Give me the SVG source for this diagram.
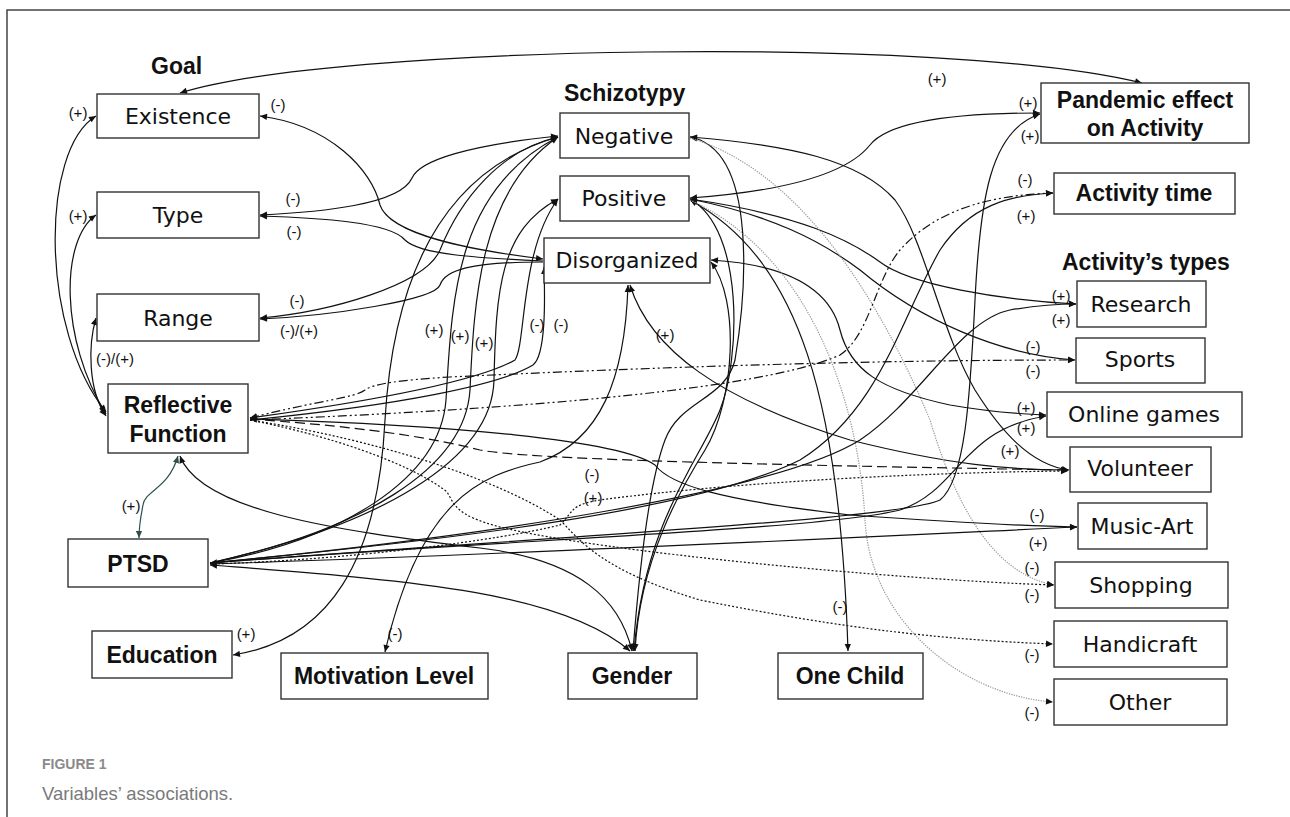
<svg xmlns="http://www.w3.org/2000/svg" width="1290" height="817" viewBox="0 0 1290 817">
<style>
.box{fill:#fff;stroke:#333;stroke-width:1.4}
.t{font-family:"DejaVu Sans",sans-serif;font-size:22px;fill:#111;text-anchor:middle}
.b{font-family:"Liberation Sans",Arial,sans-serif;font-weight:bold;font-size:23px;fill:#111;text-anchor:middle}
.h{font-family:"Liberation Sans",Arial,sans-serif;font-weight:bold;font-size:23px;fill:#111}
.l{font-family:"Liberation Sans",Arial,sans-serif;font-size:15px;fill:#111;text-anchor:middle}
.c{fill:none;stroke:#111;stroke-width:1.2}
.e{marker-end:url(#a)}
.s{marker-start:url(#a)}
.dd{stroke-dasharray:9 3 2 3 2 3}
.ds{stroke-dasharray:10 5}
.dt{stroke-dasharray:2 2}
.gr{stroke:#999;stroke-dasharray:1.3 1.2}
.tl{stroke:#2f4f4f;marker-start:url(#ta);marker-end:url(#ta)}
.cap1{font-family:"Liberation Sans",Arial,sans-serif;font-weight:bold;font-size:14px;fill:#8a8a8a}
.cap2{font-family:"Liberation Sans",Arial,sans-serif;font-size:18.5px;fill:#7a7a7a}
</style>
<defs>
<marker id="a" viewBox="0 0 10 10" refX="10" refY="5" markerWidth="9" markerHeight="7" markerUnits="userSpaceOnUse" orient="auto-start-reverse"><path d="M0,0.5 L10,5 L0,9.5 z" fill="#111"/></marker>
<marker id="ta" viewBox="0 0 10 10" refX="10" refY="5" markerWidth="9" markerHeight="7" markerUnits="userSpaceOnUse" orient="auto-start-reverse"><path d="M0,0.5 L10,5 L0,9.5 z" fill="#2f4f4f"/></marker>
</defs>
<rect x="0" y="0" width="1290" height="817" fill="#fff"/>
<g id="frame" fill="none" stroke="#444" stroke-width="1.5">
<path d="M7,817 L7,10 L1290,10"/>
</g>

<g id="connectors">
<!-- goal links -->
<path class="c e s" d="M180,93 C330,45 950,35 1142,83"/>
<path class="c e s" d="M106,412 C40,330 40,150 96,116"/>
<path class="c e s" d="M106,414 C60,340 60,240 96,215"/>
<path class="c e s" d="M106,416 C88,390 88,345 96,318"/>
<path class="c e s" d="M543,259 C470,250 390,235 380,205 C372,170 330,125 260,116"/>
<path class="c e s" d="M558,136 C470,145 420,160 412,178 C400,205 320,212 260,215"/>
<path class="c e" d="M543,261 C480,258 420,255 405,240 C390,222 320,218 260,216"/>
<path class="c e" d="M558,137 C500,150 460,200 440,250 C425,285 330,312 260,318"/>
<path class="c e" d="M543,262 C470,262 445,270 440,285 C435,300 330,316 260,319"/>
<!-- schizotypy left side -->
<path class="c e s" d="M558,137 C460,165 395,250 385,420 C378,560 330,640 233,655"/>
<path class="c e" d="M210,563 C340,540 440,480 446,400 C452,300 455,190 558,137"/>
<path class="c e" d="M210,563 C360,530 465,470 470,390 C474,300 480,190 558,137"/>
<path class="c e" d="M210,563 C380,525 492,460 494,380 C496,290 500,230 558,199"/>
<path class="c e s" d="M250,418 C380,400 480,380 515,360 C526,345 520,250 558,199"/>
<path class="c e" d="M250,420 C400,405 500,385 533,365 C546,355 545,300 544,267"/>
<path class="c e s" d="M628,285 C625,380 600,440 540,462 C480,475 420,500 385,652"/>
<path class="c e s" d="M630,285 C650,350 720,400 850,440 C950,465 1010,470 1068,470"/>
<!-- RF / PTSD / gender -->
<path class="c tl" d="M178,456 C168,490 145,490 143,505 C141,515 139,525 139,538"/>
<path class="c e s" d="M180,456 C200,510 330,530 480,548 C580,560 620,600 632,651"/>
<path class="c e s" d="M210,565 C400,580 560,590 630,651"/>
<path class="c e s" d="M690,137 C760,150 745,300 735,360 C725,400 680,400 665,440 C650,480 640,560 633,651"/>
<path class="c e s" d="M690,199 C745,230 740,360 720,410 C700,460 645,520 634,651"/>
<path class="c e s" d="M711,262 C740,300 735,400 705,450 C680,490 640,560 635,651"/>
<!-- schizotypy right side -->
<path class="c e s" d="M690,200 C800,260 840,400 848,651"/>
<path class="c e s" d="M690,198 C800,190 850,170 870,145 C890,120 960,113 1040,113"/>
<path class="c e" d="M690,199 C800,215 850,240 880,262 C910,285 1000,300 1076,304"/>
<path class="c e" d="M690,199 C770,215 820,240 860,270 C920,320 1000,355 1075,360"/>
<path class="c e s" d="M690,137 C790,145 860,160 895,200 C925,240 940,330 975,390 C1000,430 1030,465 1069,470"/>
<path class="c e s" d="M711,260 C790,265 830,290 840,330 C850,370 880,390 950,405 C990,412 1020,414 1046,415"/>
<path class="c gr e" d="M690,138 C800,170 880,300 930,420 C960,520 1000,575 1054,585"/>
<path class="c gr e" d="M690,200 C820,260 860,420 865,520 C870,620 960,695 1053,702"/>
<!-- PTSD right -->
<path class="c e s" d="M210,563 C500,540 900,520 940,500 C965,480 970,400 975,300 C980,200 990,130 1040,114"/>
<path class="c e" d="M210,563 C450,540 700,510 800,460 C880,410 900,320 940,250 C970,205 1010,195 1053,193"/>
<path class="c e" d="M210,563 C500,535 780,490 860,440 C920,400 960,320 1010,310 C1040,305 1060,304 1076,304"/>
<path class="c e" d="M210,563 C500,540 820,530 900,510 C960,490 960,430 1046,416"/>
<path class="c dt e" d="M210,564 C350,560 500,540 560,525 C575,510 570,505 600,500 C750,480 950,472 1068,471"/>
<path class="c e" d="M210,564 C500,555 800,540 1077,527"/>
<!-- RF right -->
<path class="c dd e s" d="M250,418 C320,400 355,398 365,390 C372,384 400,380 450,377 C700,365 900,360 1075,360"/>
<path class="c dd e" d="M250,420 C450,412 750,395 840,355 C870,335 875,280 900,250 C940,205 1000,195 1053,193"/>
<path class="c ds e s" d="M250,419 C380,428 440,440 480,450 C520,458 700,464 1068,470"/>
<path class="c dt e" d="M250,420 C350,440 420,470 447,492 C455,505 455,515 500,527 C600,552 900,580 1054,585"/>
<path class="c dt e" d="M250,420 C380,440 500,480 560,520 C580,540 600,570 700,600 C850,630 950,640 1053,644"/>
<path class="c e" d="M250,419 C450,425 620,440 655,465 C670,485 720,500 850,515 C950,522 1020,526 1077,527"/>
</g>

<g id="edge-labels">
<text class="l" x="937" y="84">(+)</text>
<text class="l" x="78" y="118">(+)</text>
<text class="l" x="278" y="110">(-)</text>
<text class="l" x="78" y="221">(+)</text>
<text class="l" x="293" y="204">(-)</text>
<text class="l" x="294" y="237">(-)</text>
<text class="l" x="297" y="306">(-)</text>
<text class="l" x="299" y="336">(-)/(+)</text>
<text class="l" x="115" y="364">(-)/(+)</text>
<text class="l" x="131" y="511">(+)</text>
<text class="l" x="434" y="335">(+)</text>
<text class="l" x="460" y="341">(+)</text>
<text class="l" x="484" y="348">(+)</text>
<text class="l" x="537" y="330">(-)</text>
<text class="l" x="561" y="330">(-)</text>
<text class="l" x="665" y="340">(+)</text>
<text class="l" x="592" y="480">(-)</text>
<text class="l" x="593" y="503">(+)</text>
<text class="l" x="246" y="639">(+)</text>
<text class="l" x="395" y="639">(-)</text>
<text class="l" x="840" y="612">(-)</text>
<text class="l" x="1028" y="108">(+)</text>
<text class="l" x="1030" y="141">(+)</text>
<text class="l" x="1025" y="185">(-)</text>
<text class="l" x="1026" y="221">(+)</text>
<text class="l" x="1061" y="301">(+)</text>
<text class="l" x="1061" y="325">(+)</text>
<text class="l" x="1033" y="352">(-)</text>
<text class="l" x="1033" y="376">(-)</text>
<text class="l" x="1026" y="413">(+)</text>
<text class="l" x="1026" y="433">(+)</text>
<text class="l" x="1010" y="456">(+)</text>
<text class="l" x="1037" y="520">(-)</text>
<text class="l" x="1038" y="548">(+)</text>
<text class="l" x="1032" y="573">(-)</text>
<text class="l" x="1032" y="600">(-)</text>
<text class="l" x="1032" y="660">(-)</text>
<text class="l" x="1032" y="718">(-)</text>
</g>

<g id="group-headings">
<text class="h" x="151" y="74">Goal</text>
<text class="h" x="564" y="101">Schizotypy</text>
<text class="h" x="1062" y="270">Activity’s types</text>
</g>

<g id="existence"><rect class="box" x="97" y="94" width="162" height="44"/><text class="t" x="178" y="124">Existence</text></g>
<g id="type"><rect class="box" x="97" y="192" width="162" height="46"/><text class="t" x="178" y="223">Type</text></g>
<g id="range"><rect class="box" x="97" y="294" width="162" height="47"/><text class="t" x="178" y="326">Range</text></g>
<g id="reflective-function"><rect class="box" x="108" y="384" width="140" height="69"/><text class="b" x="178" y="413">Reflective</text><text class="b" x="178" y="442">Function</text></g>
<g id="ptsd"><rect class="box" x="68" y="539" width="140" height="48"/><text class="b" x="138" y="572">PTSD</text></g>
<g id="education"><rect class="box" x="92" y="631" width="140" height="47"/><text class="b" x="162" y="663">Education</text></g>
<g id="motivation-level"><rect class="box" x="281" y="653" width="207" height="46"/><text class="b" x="384" y="684">Motivation Level</text></g>
<g id="gender"><rect class="box" x="568" y="653" width="129" height="46"/><text class="b" x="632" y="684">Gender</text></g>
<g id="one-child"><rect class="box" x="778" y="653" width="145" height="46"/><text class="b" x="850" y="684">One Child</text></g>
<g id="negative"><rect class="box" x="560" y="113" width="129" height="45"/><text class="t" x="624" y="144">Negative</text></g>
<g id="positive"><rect class="box" x="560" y="176" width="129" height="45"/><text class="t" x="624" y="206">Positive</text></g>
<g id="disorganized"><rect class="box" x="544" y="238" width="166" height="45"/><text class="t" x="627" y="268">Disorganized</text></g>
<g id="pandemic-effect"><rect class="box" x="1041" y="83" width="208" height="60"/><text class="b" x="1145" y="108">Pandemic effect</text><text class="b" x="1145" y="136">on Activity</text></g>
<g id="activity-time"><rect class="box" x="1054" y="173" width="181" height="41"/><text class="b" x="1144" y="201">Activity time</text></g>
<g id="research"><rect class="box" x="1077" y="281" width="129" height="46"/><text class="t" x="1141" y="312">Research</text></g>
<g id="sports"><rect class="box" x="1076" y="338" width="129" height="45"/><text class="t" x="1140" y="367">Sports</text></g>
<g id="online-games"><rect class="box" x="1047" y="392" width="195" height="45"/><text class="t" x="1144" y="422">Online games</text></g>
<g id="volunteer"><rect class="box" x="1070" y="447" width="141" height="45"/><text class="t" x="1140" y="476">Volunteer</text></g>
<g id="music-art"><rect class="box" x="1078" y="503" width="129" height="46"/><text class="t" x="1142" y="534">Music-Art</text></g>
<g id="shopping"><rect class="box" x="1055" y="562" width="173" height="46"/><text class="t" x="1141" y="593">Shopping</text></g>
<g id="handicraft"><rect class="box" x="1054" y="621" width="173" height="46"/><text class="t" x="1140" y="652">Handicraft</text></g>
<g id="other"><rect class="box" x="1054" y="679" width="173" height="46"/><text class="t" x="1140" y="710">Other</text></g>

<g id="caption">
<text class="cap1" x="42" y="769">FIGURE 1</text>
<text class="cap2" x="42" y="800">Variables’ associations.</text>
</g>
</svg>
